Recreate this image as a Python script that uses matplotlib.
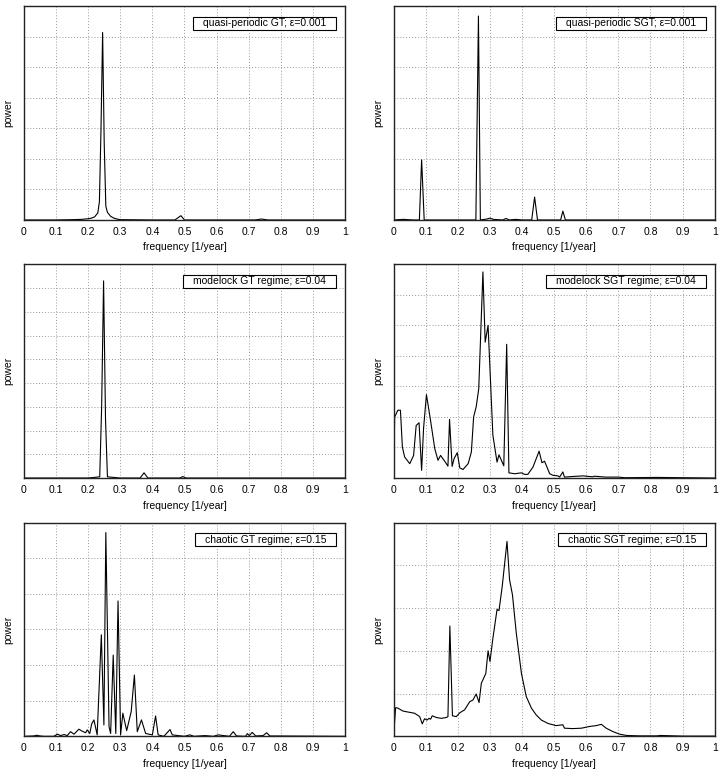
import matplotlib
matplotlib.use("Agg")
import matplotlib.pyplot as plt
from matplotlib.patches import Rectangle

plt.rcParams['font.family'] = ['Liberation Sans', 'DejaVu Sans']

# power spectra (y in grid units)
qp_gt_x = [0, 0.1, 0.15, 0.18, 0.2, 0.21, 0.22, 0.23, 0.235, 0.24, 0.245, 0.25, 0.255,
           0.26, 0.27, 0.28, 0.29, 0.3, 0.4, 0.47, 0.489, 0.5, 0.6, 0.72, 0.74, 0.76, 1.0]
qp_gt_y = [0, 0, 0.01, 0.02, 0.04, 0.06, 0.1, 0.23, 0.6, 3.0, 6.14, 2.5, 0.45,
           0.25, 0.12, 0.06, 0.03, 0.01, 0, 0, 0.14, 0, 0, 0, 0.03, 0, 0]

qp_sgt_x = [0, 0.03, 0.06, 0.08, 0.087, 0.095, 0.2, 0.256, 0.264, 0.27, 0.29, 0.3, 0.31,
            0.34, 0.35, 0.36, 0.38, 0.4, 0.43, 0.439, 0.448, 0.52, 0.527, 0.535, 1.0]
qp_sgt_y = [0, 0.02, 0, 0, 1.97, 0, 0, 0, 6.68, 0, 0.03, 0.06, 0.02,
            0, 0.05, 0, 0.02, 0, 0, 0.75, 0, 0, 0.29, 0, 0]

ml_gt_x = [0, 0.2, 0.236, 0.242, 0.248, 0.254, 0.26, 0.3, 0.362, 0.374, 0.386, 0.485,
           0.495, 0.505, 1.0]
ml_gt_y = [0, 0, 0.05, 3.0, 8.3, 2.5, 0.05, 0, 0, 0.22, 0, 0,
           0.06, 0, 0]

ml_sgt_x = [0, 0.003, 0.013, 0.021, 0.027, 0.034, 0.05, 0.062, 0.07, 0.079, 0.087, 0.093,
            0.102, 0.114, 0.128, 0.138, 0.146, 0.159, 0.169, 0.174, 0.182, 0.188, 0.198,
            0.206, 0.216, 0.232, 0.242, 0.249, 0.257, 0.265, 0.278, 0.285, 0.294, 0.309,
            0.322, 0.328, 0.343, 0.352, 0.359, 0.377, 0.398, 0.408, 0.418, 0.434, 0.453,
            0.462, 0.47, 0.486, 0.496, 0.512, 0.517, 0.527, 0.532, 0.558, 0.59, 0.62,
            0.625, 0.66, 0.7, 0.72, 0.82, 0.9, 1.0]
ml_sgt_y = [0, 2.0, 2.22, 2.22, 1.02, 0.69, 0.47, 0.74, 1.72, 1.81, 0.25, 1.62,
            2.73, 1.94, 0.96, 0.58, 0.74, 0.55, 0.39, 1.92, 0.38, 0.63, 0.83,
            0.33, 0.28, 0.47, 0.85, 2.0, 2.33, 2.93, 6.75, 4.45, 5.0, 1.4,
            0.52, 0.76, 0.4, 4.38, 0.17, 0.14, 0.17, 0.12, 0.12, 0.36, 0.88,
            0.5, 0.55, 0.14, 0.09, 0.07, 0.03, 0.2, 0.03, 0.05, 0.07, 0.04,
            0.06, 0.03, 0.03, 0.01, 0.02, 0.01, 0]

ch_gt_x = [0, 0.03, 0.04, 0.05, 0.062, 0.093, 0.104, 0.114, 0.125, 0.135, 0.145, 0.156,
           0.171, 0.182, 0.192, 0.197, 0.205, 0.211, 0.218, 0.228, 0.241, 0.249, 0.255,
           0.265, 0.27, 0.278, 0.286, 0.293, 0.301, 0.308, 0.32, 0.334, 0.344, 0.353,
           0.366, 0.379, 0.4, 0.41, 0.418, 0.436, 0.455, 0.462, 0.5, 0.517, 0.53, 0.564,
           0.59, 0.605, 0.64, 0.652, 0.662, 0.69, 0.696, 0.702, 0.711, 0.722, 0.745,
           0.756, 0.766, 1.0]
ch_gt_y = [0, 0.01, 0.03, 0.01, 0, 0, 0.06, 0.02, 0.05, 0.02, 0.13, 0.06,
           0.2, 0.14, 0.1, 0.18, 0.08, 0.35, 0.46, 0.04, 2.85, 0.32, 5.72,
           0.27, 0.08, 2.28, 0.08, 3.8, 0.04, 0.65, 0.16, 0.69, 1.72, 0.13,
           0.46, 0.08, 0.04, 0.57, 0.04, 0, 0.19, 0.04, 0, 0.04, 0, 0.02,
           0, 0.04, 0, 0.13, 0.01, 0, 0.075, 0.02, 0.11, 0.01, 0.02,
           0.1, 0.01, 0]

ch_sgt_x = [0, 0.006, 0.013, 0.029, 0.05, 0.065, 0.081, 0.089, 0.096, 0.104, 0.11, 0.115,
            0.12, 0.133, 0.148, 0.164, 0.169, 0.175, 0.183, 0.195, 0.206, 0.221, 0.237,
            0.247, 0.257, 0.266, 0.273, 0.287, 0.294, 0.3, 0.309, 0.322, 0.328, 0.338,
            0.353, 0.361, 0.37, 0.382, 0.398, 0.413, 0.429, 0.444, 0.46, 0.481, 0.506,
            0.527, 0.532, 0.558, 0.585, 0.61, 0.631, 0.647, 0.662, 0.683, 0.704, 0.725,
            0.766, 0.82, 0.83, 0.9, 1.0]
ch_sgt_y = [0.03, 0.67, 0.66, 0.59, 0.56, 0.54, 0.46, 0.29, 0.41, 0.38, 0.42, 0.4,
            0.48, 0.44, 0.42, 0.44, 0.46, 2.58, 0.48, 0.46, 0.55, 0.62, 0.81,
            0.85, 0.99, 0.79, 1.24, 1.47, 2.0, 1.75, 2.29, 2.97, 2.94, 3.5,
            4.56, 3.66, 3.31, 2.41, 1.47, 0.93, 0.66, 0.5, 0.38, 0.3, 0.25,
            0.27, 0.19, 0.18, 0.19, 0.23, 0.25, 0.28, 0.19, 0.11, 0.05, 0.02,
            0.01, 0.01, 0.02, 0.005, 0.005]

panels = [
    (qp_gt_x, qp_gt_y, 7, u"quasi-periodic GT; \u03b5=0.001"),
    (qp_sgt_x, qp_sgt_y, 7, u"quasi-periodic SGT; \u03b5=0.001"),
    (ml_gt_x, ml_gt_y, 9, u"modelock GT regime; \u03b5=0.04"),
    (ml_sgt_x, ml_sgt_y, 7, u"modelock SGT regime; \u03b5=0.04"),
    (ch_gt_x, ch_gt_y, 6, u"chaotic GT regime; \u03b5=0.15"),
    (ch_sgt_x, ch_sgt_y, 5, u"chaotic SGT regime; \u03b5=0.15"),
]

fig = plt.figure(figsize=(7.2, 7.71), dpi=100)
lefts = [0.0333, 0.5468]
bottoms = [0.7147, 0.380, 0.045]
w, h = 0.4458, 0.2772

keys = []
for i, (x, y, ny, label) in enumerate(panels):
    ax = fig.add_axes([lefts[i % 2], bottoms[i // 2], w, h])
    ax.plot(x, y, color='black', lw=0.8)
    ax.set_xlim(0, 1)
    ax.set_ylim(0, ny)
    ax.set_xticks([k / 10 for k in range(11)])
    ax.set_xticklabels(['0'] + ['0.%d' % k for k in range(1, 10)] + ['1'])
    ax.set_yticks(range(ny + 1))
    ax.set_yticklabels([])
    ax.tick_params(axis='x', direction='in', length=0, labelsize=7.5, pad=5)
    ax.tick_params(axis='y', direction='in', length=0)
    ax.grid(True, color='#999999', linestyle=(0, (1, 2)), lw=0.7)
    for s in ax.spines.values():
        s.set_linewidth(1.0)
        s.set_color('#222222')
    ax.set_xlabel('frequency [1/year]', fontsize=7.5, labelpad=4)
    ax.set_ylabel('power', fontsize=7.5)
    ax.yaxis.set_label_coords(-0.033, 0.5)
    t = ax.text(0.9415, 0.92, label, transform=ax.transAxes, ha='right',
                va='center', fontsize=7.5, zorder=5)
    keys.append((ax, t))

# key boxes with gnuplot-like horizontal padding
fig.canvas.draw()
r = fig.canvas.get_renderer()
for ax, t in keys:
    bb = t.get_window_extent(r).transformed(ax.transAxes.inverted())
    px = 10 / (w * 720)
    py = 1.5 / (h * 771)
    ax.add_patch(Rectangle((bb.x0 - px, bb.y0 - py), bb.width + 2 * px,
                           bb.height + 2 * py, transform=ax.transAxes,
                           facecolor='white', edgecolor='black', lw=0.8,
                           zorder=4))

fig.savefig('out.png', dpi=100)
